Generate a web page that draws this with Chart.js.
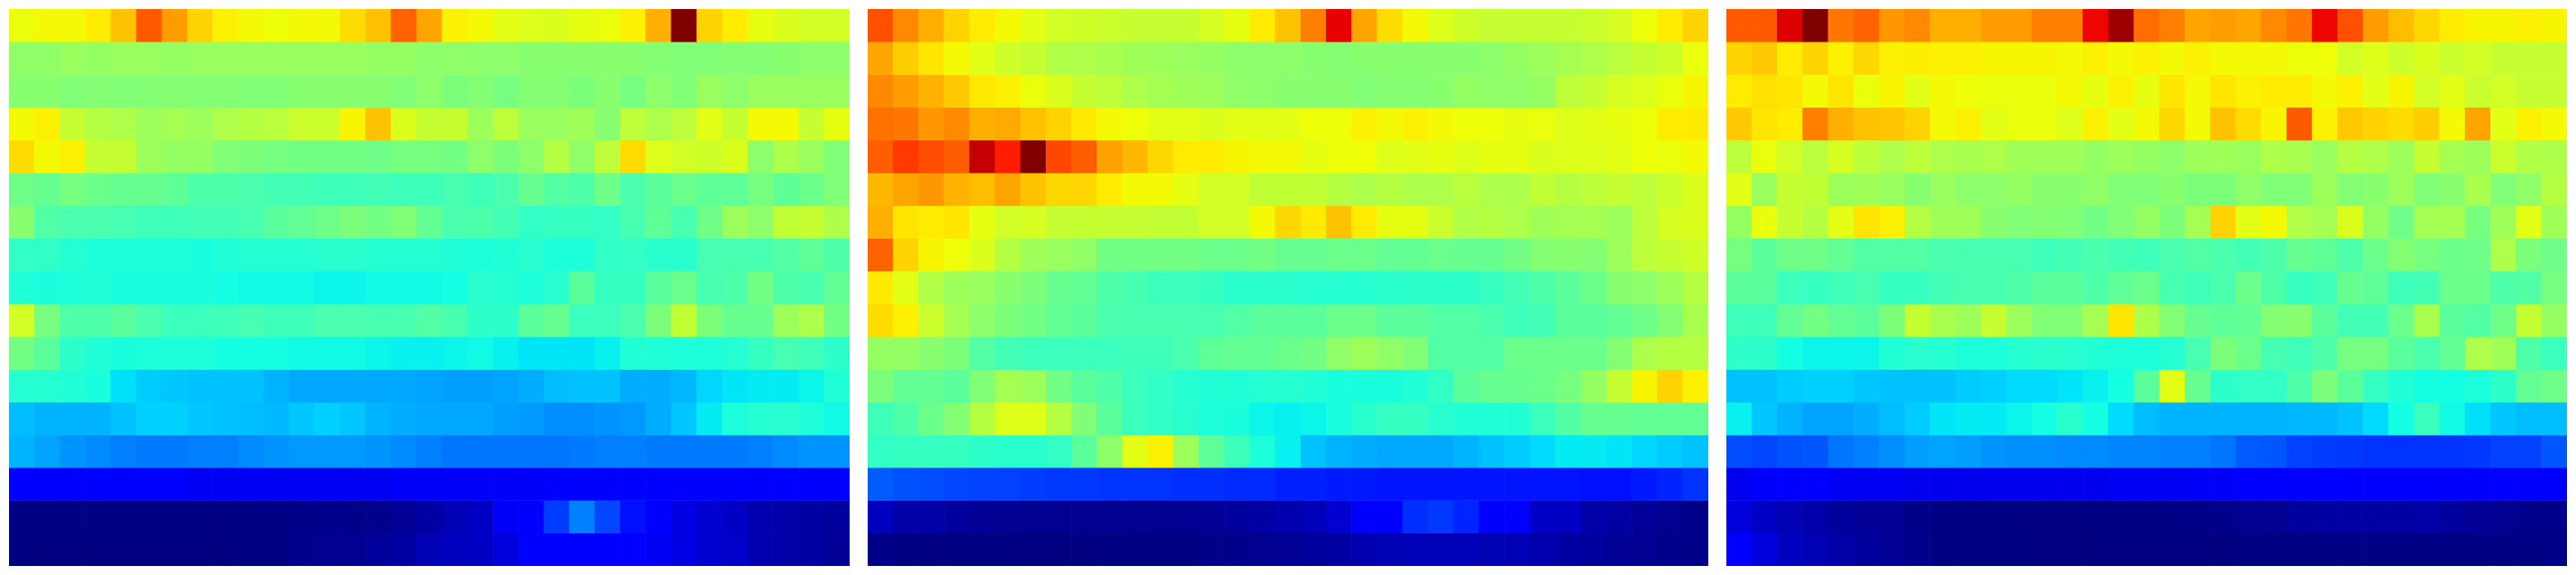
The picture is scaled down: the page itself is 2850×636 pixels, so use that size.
<!DOCTYPE html>
<html>
<head>
<meta charset="utf-8">
<title>Heatmaps</title>
<script src="https://cdn.jsdelivr.net/npm/chart.js@4"></script>
<style>
    html, body { margin: 0; padding: 0; background: #fff; }
    canvas { position: absolute; top: 10px; }
    #leftMap { left: 10px; }
    #midMap { left: 960px; }
    #rightMap { left: 1910px; }
</style>
</head>
<body>
<canvas id="leftMap" width="930" height="616"></canvas>
<canvas id="midMap" width="930" height="616"></canvas>
<canvas id="rightMap" width="930" height="616"></canvas>
<script>
// =======================
// DATA (position on the jet scale, 0-100)
// =======================
let columns = [];
for (let c = 1; c <= 33; c++) columns.push(String(c));

let leftValues = [
    [63.5,64.5,64.5,66,70.5,81.5,74.5,68.7,65.5,64.5,64,64.5,64.5,67.7,70.5,80.5,73.5,65.5,64.5,62.5,62,61.5,63,63.5,65.5,72.5,100,68.7,66,63,61.5,60.5,60.5],
    [52.5,52.5,53.5,53,53.5,53.5,53,53.5,53.5,53.5,53.5,53.5,53.5,53.5,53,53,52,52.5,52,52,51.5,51.5,51.5,51.5,51.5,51,50.5,50.5,51,51,51.5,52,52],
    [51.5,51.5,50.5,51,50.5,51,51,51,51,50.5,50.5,51.5,51.5,51.5,51.5,50.5,52,50,51,49.5,51,51,50,51.5,49.5,52,50.5,53.5,52,53.5,53.5,53.5,53.5],
    [64.5,65.5,59,57,56,54,55,54,56,57,57.5,59.5,59.5,65,70.5,61.5,59,59,54,58,53.5,53.5,54.5,51.5,58,56,58,62.5,59,64.5,64.5,59,63],
    [67.7,64.5,65.5,59,59,54,53,53,50.5,50,49.5,49,49,49,48.5,49.5,49.5,49,52,50,52,57,52.5,58,67.7,62,60.5,60,61.5,52,56,53.5,50.5],
    [48.5,47.5,49.5,48,47.5,47.5,46.5,44.5,44.5,44,43,43,42.5,42.5,43,42.5,42.5,43.5,42.5,44,47.5,45,44.5,48.5,44,46,48,46.5,46.5,49.5,46.5,48,50.5],
    [51.5,45,44,44,43.5,42.5,42.5,43,43,43.5,46,47,48.5,50,49,50.5,47,44,44.5,43,41,41.5,41.5,41,43.5,46.5,43.5,48.5,54,52,58.5,59,56],
    [41,41,39.5,38.5,38.5,38.5,38.5,38,39,39.5,39.5,39.5,40,40,39.5,39.5,39.5,39,38.5,39,40,38.5,38.5,41,41,40,40,43.5,43.5,43.5,45,46.5,44.5],
    [39,38,38.5,39,38,38,38,38,37.5,37,37,37,36.5,36.5,37,37,37,37.5,40,39.5,38.5,40,46,41.5,41.5,46,48,43.5,44.5,49,44.5,43.5,47],
    [60.5,49.5,44.5,44.5,46,44,42,42,42.5,43.5,42.5,42.5,44,44,43.5,43.5,45,43.5,40.5,40.5,46,47.5,42,42,44,50,58.5,50,47.5,47.5,54,56,49],
    [49,46,40.5,39,38,38.5,38.5,38.5,37.5,37.5,37.5,37,37,37,36.5,36,36,36.5,37,36,35,35,35,36,39,39,38.5,38.5,39.5,41.5,43.5,42.5,40.5],
    [39.5,39.5,39,38,34.5,32.5,32,31.5,31.5,31.5,30,29,29,29,29,29,28.5,28,28,28.5,29.5,31,31.5,31.5,29.5,29.5,30.5,33.5,35,35.5,35.5,36.5,39],
    [31,30,30,30,31.5,33,33,32,31.5,31,30.5,32,33,32,30,29.5,29,29,29,28,27.5,26.5,26.5,27,27.5,29.5,32,35.5,38.5,39.5,40,38.5,37],
    [30,28.5,27,26,25,24.5,24.5,25,25,26,27,27.5,27.5,27.5,27,26,25,24,24,24,24,24,24.5,25,25,24.5,24.5,24.5,24.5,25,26,27,27],
    [12.5,11.5,11,11,11,11,11,10,10,10,10,10,10,10,10,10.5,10.5,10.5,10.5,10.5,10.5,11,11,11,11,11,11,11,11,11,11,11,11],
    [0.5,0.5,0.5,0.4,0.3,0.3,0.3,0.3,0.3,0.3,0.5,0.8,1,1,1.2,2,3,4.5,6,10.5,12.5,18.5,25,19.5,14,11,8.5,7,6,4,3.5,3,2.5],
    [0.3,0.1,0.1,0.1,0.1,0.1,0.1,0.1,0.1,0.3,0.5,1,1.5,1.5,2.5,3,4.5,5.5,6,8,11,11.5,11.5,11.5,11.5,10,8.5,7,6.5,4,3.5,3,2]
];

let midValues = [
    [82.5,76.5,72.5,68.7,66,64.5,62.5,60.5,60,59.5,59,59,59,61,63,66,70.5,77.5,91,73.5,67.7,64.5,62,60,59,59,59,59,59.5,61,64,66,68.7],
    [73.5,69.2,66.8,64.5,62.5,60,59,56.5,56,55.5,54.5,54,53.5,53,52,52,52,51.5,51,51.5,51.5,51.5,51.5,51.5,52,53,54,55,56,57.5,59,60,63.5],
    [76.5,74.5,72,69.7,66.3,65.5,63.5,61.5,59,58,56,55,54.5,54,52.5,52,51.5,51.5,51.5,50.5,51,51,51.5,53,52.5,52.5,53,58,59,61,62,63.5,65],
    [79,78.5,75,76.5,72.5,73,70.5,68.7,66.2,64.5,64,62.5,62.5,61.5,62.5,62.5,62.5,64,64,65.5,64.5,65.5,64.5,64,64,63,63.5,62,62.5,63,64,66,66.2],
    [81,85,83,81,94,88,100,83.5,81,74,71.5,68.2,66,66,65,64.5,64.5,63,64,64,62,62.5,63,62,63,63,61.5,62,62,62.5,64,63.5,64.5],
    [71.5,73.5,75,72,71,73.5,70.5,68.2,68.2,66,64.5,64.5,63,60.5,60.5,58.5,58.5,58.5,57,56,57,56,56,57.5,56,56,58.5,57,58,59,58,59.5,61.5],
    [72.5,66.8,66,66.8,63,60.5,61,59,59,59,59,58.5,58.5,60.5,60.5,64.5,68.2,66.2,70.5,66,63,63,59.5,56.5,57,56,54.5,55,55,54,58,61,61.5],
    [80.5,68.7,65,64,61.5,57,54.5,53.5,52.5,49,49,49,49,48,48,49,47.5,47.5,48,48,47,47,48,47.5,47.5,49,51,51.5,51,54,58,59,60],
    [66.2,62.5,56.5,54,53.5,51.5,50,47.5,47,44.5,43.5,42,42,41.5,40,40,40,39.5,39.5,39.5,40,40.5,40.5,40.5,41.5,43,44.5,46,48,51.5,52,54,57],
    [67.7,65.5,59.5,55,52,50,49,47,46,44,43.5,43.5,43.5,43.5,45,46,46,46,48,48,46,46,45,45,44,42.5,43,46,46,47,48.5,51,55.5],
    [53,53,51.5,50,45,43,42,42,42,42,42.5,42.5,44,46.5,47,47,48,49,52.5,54,52.5,50.5,45,45,45,48,48,48,48,51,56,57,57],
    [50,47,47,46,50.5,55,54,49,46,44.5,42,41,39.5,39,39,39.5,39.5,39,38,38,38,39,41,46,47.5,47.5,48,49.5,53,59,65,68.7,65.5],
    [42.5,44.5,48,51,57,62,62,57,50.5,46,42,41,40,38.5,38,36.5,36,36.5,38,40,41.5,41.5,40,39,39,39,42,45,47.5,47.5,47,47,47],
    [41,41.5,41.5,41.5,40.5,40,40,41,46,52,62.5,65.5,54,46.5,42.5,38.5,36,31.5,30,29.5,29,29,29,30,31.5,32.5,34,35.5,35.5,35,33.5,32.5,31.5],
    [21.5,20.5,20,19.5,19,19,18.5,18,18,17.5,17.5,17.5,17,17,16.5,16.5,15.5,15.5,15,15,14.5,14.5,14.5,14.5,14.5,14.5,14.5,14.5,14,14,15,16,17.5],
    [5.5,3.5,3.5,2.5,2,1.5,1.5,1.5,1.5,1.5,1.5,1.5,1.5,2,2.5,3,4,5,7,11,12,17,18,16,11,11,6,6,3.5,3,2,1.5,0.8],
    [0.8,0.5,0.3,0.3,0.2,0.2,0.1,0.1,0.1,0.2,0.5,0.5,0.5,0.8,1,1.5,2,2.5,3,4,4.5,5,5,5,4.5,4.5,4,3,2.5,2,1.5,1,0.8]
];

let rightValues = [
    [81.5,81.5,92,100,78.5,80.5,75,76.5,72.5,72.5,74.5,74.5,77.5,77.5,90.5,97.5,79.5,77.5,73.5,74.5,73.5,76.5,78.5,90.5,82.5,74.5,71,68.2,66,65,65,65.5,65],
    [68.7,69.7,66,68.7,65.5,68.2,65.5,65.7,65.5,65.5,65,65,65,64.5,65.5,64.5,65.5,64.5,65.5,64.5,64.5,64.5,64,64,60.5,62,60,61.5,59.5,60.5,59,59,59],
    [66,67.2,66.8,64.5,66.8,63.5,65,62.5,64.5,64,63.5,63.5,63.5,64.5,63,65.5,63,66.8,64.5,66.8,65.5,66,66,64.5,65.5,62.5,65,60.5,62.5,59.5,60.5,59,59],
    [69.7,66.8,66,77.5,72.5,70.5,70,68.7,64.5,65.5,62.5,63.5,63.5,62,65.5,62.5,64.5,68.2,64.5,70.5,67.7,65,81.5,65.5,69.7,68.7,67.7,69.2,64.5,73.5,62.5,65.5,64.5],
    [58,63.5,60.5,57.5,61,58,56,58,56,55.5,56,54.5,54.5,54.5,53,54,53,52,54,54.5,53.5,56,55.5,53.5,57,56,54,59,55,54,59.5,56.5,56],
    [62.5,53.5,59,58.5,54,54.5,53.5,51.5,53.5,52,52,53,51.5,51.5,52.5,50.5,50.5,51.5,50,50,52.5,50.5,50.5,54,51,51.5,54,50.5,51.5,55.5,50.5,52.5,57],
    [53,63.5,59,57,62.5,66.8,65.5,57,54.5,54.5,51.5,50.5,51,50.5,49,50.5,53,50,55,68.7,62.5,64.5,56.5,55,61.5,53,48.5,55,55,49.5,54.5,62.5,54.5],
    [49.5,46,48.5,48.5,47,45,45,45,44,43.5,43.5,43.5,42.5,43,44,43,42.5,44,45,44,43,44.5,47.5,46.5,44.5,48,51,49.5,48,48.5,56,50,48.5],
    [46,46,42,41.5,42.5,43.5,41.5,41.5,43,43.5,43.5,44.5,46,46,44.5,46.5,48,43.5,42.5,44,48,44.5,41.5,42.5,47.5,46.5,42.5,43,48,48,44.5,45,49.5],
    [42.5,42.5,47,49,47,46,50,59,55.5,54,59,54,50.5,50.5,55,66.8,56,51,47.5,46.5,47,51,51.5,46,43,43,48,55.5,46,45,48.5,59,53],
    [40.5,40.5,37.5,36.5,36.5,36.5,39,40,39.5,38.5,38.5,39.5,40,40,39,38.5,38.5,39.5,43.5,50,48,43.5,42.5,44.5,49.5,49.5,46,44,47,56,54.5,44.5,42],
    [31.5,31.5,32.5,33,33,32,31.5,31.5,31.5,32.5,33,34,34,35,36,37.5,46,62.5,47.5,40.5,41,41,44.5,50,46,41.5,39,37.5,37.5,38.5,40.5,47,48.5],
    [36,32,30,28.5,28.5,29.5,31,32.5,35,35.5,35.5,36.5,37.5,40,37.5,34,31,30,30,30,30,30,30.5,30.5,31.5,34,37.5,42,37,34.5,32,31,31],
    [20,19.5,20.5,21,24,25,26.5,28,28.5,28,27,26.5,26.5,26,26,25.5,25.5,25,25,24,21.5,21,19,18.5,18,17.5,17.5,17.5,17.5,18,19,19,21],
    [9.5,11,11.5,11.5,10,10,10,9.5,9.5,9.5,9.5,9.5,9.5,9.5,9.5,10,10,10,10.5,10.5,11,11.5,11.5,11.5,11.5,12,12,12,12,11.5,11.5,11.5,11.5],
    [8,6,4.5,3.5,2.5,2,2,0.8,0.5,0.3,0.2,0.1,0,0.1,0.2,0.2,0.3,0.4,0.6,1,1.5,1.5,2.5,3,3,3,3,3.5,2.5,2,1.5,1,1],
    [11,8,5.5,4.5,3.5,2.5,2,1,0.5,0.4,0.3,0.2,0.1,0.1,0.1,0.1,0.1,0,0,0.1,0.2,0.3,0.3,0.4,0.5,0.5,0.5,0.5,0.5,0.5,0.5,0.5,0.6]
];

// =======================
// JET COLOUR MAP
// =======================
function ramp(v, x0, y0, x1, y1) {
    if (v <= x0) return y0;
    if (v >= x1) return y1;
    return y0 + (y1 - y0) * (v - x0) / (x1 - x0);
}

function jet(value) {
    let v = value / 100;
    let r = v < 0.89 ? ramp(v, 0.35, 0, 0.66, 1) : ramp(v, 0.89, 1, 1, 0.5);
    let g = v < 0.64 ? ramp(v, 0.125, 0, 0.375, 1) : ramp(v, 0.64, 1, 0.91, 0);
    let b = v < 0.34 ? ramp(v, 0, 0.5, 0.11, 1) : ramp(v, 0.34, 1, 0.65, 0);
    return `rgb(${Math.round(r * 255)},${Math.round(g * 255)},${Math.round(b * 255)})`;
}

// =======================
// DRAW ONE HEATMAP
// =======================
function drawHeatmap(id, values) {
    let datasets = values.map((row, r) => ({
        data: row.map(() => [r, r + 1]),
        backgroundColor: row.map(jet),
        borderWidth: 0,
        grouped: false,
        barPercentage: 1,
        categoryPercentage: 1
    }));

    new Chart(document.getElementById(id), {
        type: "bar",
        data: { labels: columns, datasets: datasets },
        options: {
            responsive: false,
            animation: false,
            layout: { padding: 0 },
            plugins: { legend: { display: false }, tooltip: { enabled: false } },
            scales: {
                x: { display: false },
                y: { display: false, min: 0, max: values.length, reverse: true }
            }
        }
    });
}

drawHeatmap("leftMap", leftValues);
drawHeatmap("midMap", midValues);
drawHeatmap("rightMap", rightValues);
</script>
</body>
</html>
